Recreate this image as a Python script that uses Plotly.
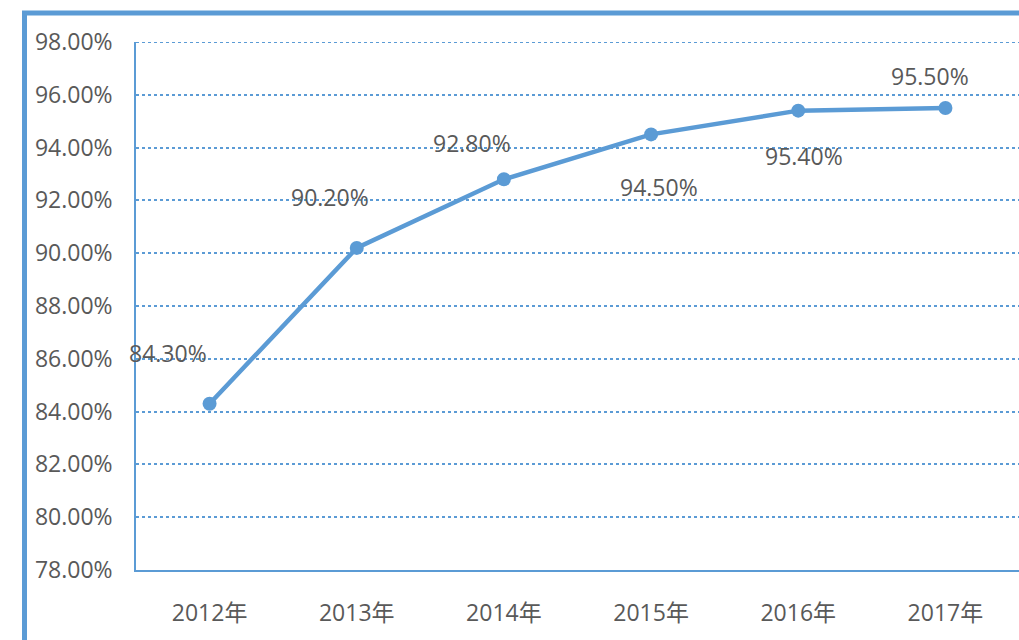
import plotly.graph_objects as go

years = ["2012年", "2013年", "2014年", "2015年", "2016年", "2017年"]
values = [84.30, 90.20, 92.80, 94.50, 95.40, 95.50]
labels = ["84.30%", "90.20%", "92.80%", "94.50%", "95.40%", "95.50%"]
# label offsets (pixels) relative to each point
label_dx = [-42, -27, -32, 8, 6, -15]
label_dy = [51, 51, 36, -53, -45, 32]
y_ticks = [78, 80, 82, 84, 86, 88, 90, 92, 94, 96, 98]
y_ticktext = ["%.2f%%" % v for v in y_ticks]

BLUE = "#5B9BD5"
GRAY = "#595959"
W, H = 1019, 640
L, R, T, B = 136, 0, 42, 70

fig = go.Figure()
fig.add_trace(go.Scatter(
    x=years, y=values, mode="lines+markers",
    line=dict(color=BLUE, width=4.5),
    marker=dict(color=BLUE, size=14),
    hoverinfo="skip", showlegend=False,
))

for xv, yv, t, dx, dy in zip(years, values, labels, label_dx, label_dy):
    fig.add_annotation(x=xv, y=yv, text=t, showarrow=False,
                       xshift=dx, yshift=dy,
                       font=dict(family="Open Sans, sans-serif", size=23, color=GRAY))

pw = W - L - R
ph = H - T - B
def px_x(p):
    return (p - L) / pw
def px_y(p):
    return (H - B - p) / ph

# top gridline (at range edge, drawn explicitly)
fig.add_shape(type="line", xref="paper", yref="y", x0=0, x1=1,
              y0=y_ticks[-1], y1=y_ticks[-1],
              line=dict(color=BLUE, width=2, dash="dot"), layer="below")

# outer frame (top and left edges)
fig.add_shape(type="path", xref="paper", yref="paper",
              path=f"M {px_x(24.5)} {px_y(660)} L {px_x(24.5)} {px_y(13)} L {px_x(1040)} {px_y(13)}",
              line=dict(color=BLUE, width=5))

fig.update_layout(
    width=W, height=H,
    margin=dict(l=L, r=R, t=T, b=B, pad=0),
    paper_bgcolor="white", plot_bgcolor="white",
    font=dict(family="Open Sans, Noto Sans CJK SC, sans-serif", color=GRAY),
    xaxis=dict(type="category", range=[-0.5, 5.5], showgrid=False,
               showline=True, linecolor=BLUE, linewidth=1.5,
               ticks="", tickfont=dict(size=23, color=GRAY,
                                       family="Open Sans, Noto Sans CJK SC, sans-serif"),
               ticklabelstandoff=22, zeroline=False, fixedrange=True),
    yaxis=dict(range=[78, 98], tickvals=y_ticks, ticktext=y_ticktext,
               showgrid=True, gridcolor=BLUE, griddash="dot", gridwidth=2,
               showline=True, linecolor=BLUE, linewidth=1.5,
               ticks="", tickfont=dict(size=23, color=GRAY,
                                       family="Open Sans, sans-serif"),
               ticklabelstandoff=17, zeroline=False, fixedrange=True),
)

fig.write_html("out.html")
